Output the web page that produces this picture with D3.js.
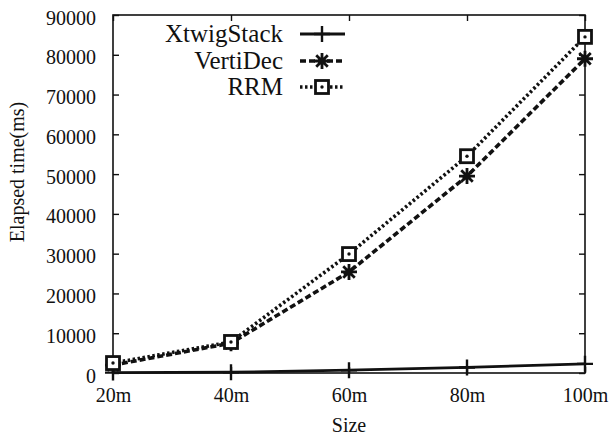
<!DOCTYPE html>
<html><head><meta charset="utf-8">
<script src="https://cdn.jsdelivr.net/npm/d3@7"></script>
<style>body{margin:0;background:#fff}svg{display:block}</style>
</head><body><svg id="c" width="614" height="438"></svg>
<script>
const categories = ["20m","40m","60m","80m","100m"];
const xtwig = [100, 200, 700, 1400, 2300];
const verti = [2000, 7500, 25400, 49500, 79000];
const rrm = [2500, 7800, 29900, 54500, 84500];
const yTicks = [0,10000,20000,30000,40000,50000,60000,70000,80000,90000];
const seriesNames = ["XtwigStack","VertiDec","RRM"];

const svg = d3.select("#c");
const L=113, R=585, T=15, B=373;
const x = d3.scalePoint().domain(categories).range([L,R]);
const y = d3.scaleLinear().domain([0,90000]).range([B,T]);
const ink="#111";
const FONT="Liberation Serif, Tinos, Times New Roman, Times, DejaVu Serif, serif";

svg.append("rect").attr("x",L).attr("y",T).attr("width",R-L).attr("height",B-T)
  .attr("fill","none").attr("stroke",ink).attr("stroke-width",1.6);

const ya = svg.append("g").attr("transform",`translate(${L},0)`)
  .call(d3.axisLeft(y).tickValues(yTicks).tickSize(-6).tickPadding(17).tickFormat(d3.format("d")));
const yr = svg.append("g").attr("transform",`translate(${R},0)`)
  .call(d3.axisRight(y).tickValues(yTicks).tickSize(-6).tickFormat(""));
const xa = svg.append("g").attr("transform",`translate(0,${B})`)
  .call(d3.axisBottom(x).tickSize(-6).tickPadding(15));
const xt = svg.append("g").attr("transform",`translate(0,${T})`)
  .call(d3.axisTop(x).tickSize(-6).tickFormat(""));
[ya,yr,xa,xt].forEach(g=>{g.attr("font-family",null).attr("font-size",null);g.select(".domain").remove();g.selectAll("line").attr("stroke",ink).attr("stroke-width",1.4);});
ya.selectAll("text").attr("fill",ink).attr("dy","0.45em");
xa.selectAll("text").attr("fill",ink);

svg.append("text").attr("x",(L+R)/2).attr("y",432).attr("text-anchor","middle").text("Size");
svg.append("text").attr("transform",`translate(24,172) rotate(-90)`).attr("text-anchor","middle").text("Elapsed time(ms)");

const styles = [
  {vals:xtwig, dash:null, w:2.8, marker:"plus"},
  {vals:verti, dash:"6,3", w:3.6, marker:"star"},
  {vals:rrm, dash:"2.5,2.5", w:3.6, marker:"square"}
];
const line = d3.line().x((d,i)=>x(categories[i])).y(d=>y(d));

function marker(g, cx, cy, type){
  const s=8;
  if(type==="plus"){
    g.append("path").attr("d",`M${cx-s},${cy}H${cx+s}M${cx},${cy-s}V${cy+s}`).attr("stroke",ink).attr("stroke-width",2.4).attr("fill","none");
  } else if(type==="star"){
    const d=s*0.72;
    g.append("path").attr("d",`M${cx-s},${cy}H${cx+s}M${cx},${cy-s}V${cy+s}M${cx-d},${cy-d}L${cx+d},${cy+d}M${cx-d},${cy+d}L${cx+d},${cy-d}`).attr("stroke",ink).attr("stroke-width",2.8).attr("fill","none");
  } else {
    g.append("rect").attr("x",cx-6.5).attr("y",cy-6.5).attr("width",13).attr("height",13).attr("fill","#fff").attr("stroke",ink).attr("stroke-width",2.8);
    g.append("circle").attr("cx",cx).attr("cy",cy).attr("r",1.7).attr("fill",ink);
  }
}

styles.forEach(st=>{
  svg.append("path").datum(st.vals).attr("d",line).attr("fill","none").attr("stroke",ink)
    .attr("stroke-width",st.w).attr("stroke-dasharray",st.dash);
  const g=svg.append("g");
  st.vals.forEach((v,i)=>marker(g,x(categories[i]),y(v),st.marker));
});

const legY=[34,61,87];
seriesNames.forEach((n,i)=>{
  svg.append("text").attr("class","leg").attr("x",283).attr("y",legY[i]).attr("dy","0.33em").attr("text-anchor","end").text(n);
  svg.append("line").attr("x1",300).attr("x2",345).attr("y1",legY[i]).attr("y2",legY[i]).attr("stroke",ink)
    .attr("stroke-width",styles[i].w).attr("stroke-dasharray",styles[i].dash);
  marker(svg.append("g"),322,legY[i],styles[i].marker);
});
svg.selectAll("text").style("font-family",FONT).style("font-size","20px").style("fill",ink);
svg.selectAll("text.leg").style("font-size","25px");
</script></body></html>
